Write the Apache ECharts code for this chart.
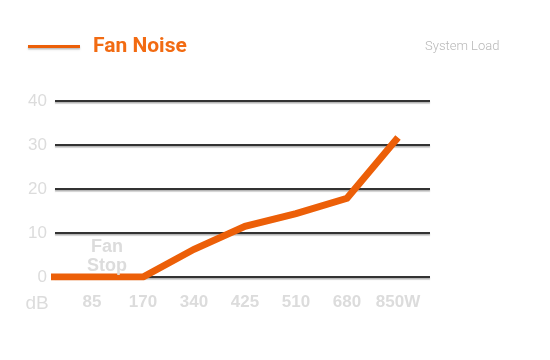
<!DOCTYPE html>
<html><head><meta charset="utf-8">
<script src="https://cdn.jsdelivr.net/npm/echarts@6/dist/echarts.min.js"></script>
<style>html,body{margin:0;padding:0;background:#fff}#c{width:550px;height:360px}</style>
</head><body><div id="c"></div>
<script>
// Data
const tickLabels = ['dB', '85', '170', '340', '425', '510', '680', '850W'];
const fanNoise = [0, 0, 0, 6.3, 11.5, 14.4, 17.9, 31.7];
const yMin = 0, yMax = 40, yStep = 10;
const seriesName = 'Fan Noise';
const annotation = ['Fan', 'Stop'];

// Layout
const band = 51, labelsLeft = 15.5;
const plotLeft = 55, plotRight = 430, plotTop = 101, plotBottom = 277;
const firstCenter = labelsLeft + band / 2;

const chart = echarts.init(document.getElementById('c'));
chart.setOption({
  animation: false,
  backgroundColor: '#fff',
  title: [{
    text: 'System Load', left: 420, top: 35,
    textStyle: { fontFamily: 'Roboto', fontWeight: 300, fontSize: 13, color: '#b8b8b8' }
  }, {
    text: annotation.join('\n'), left: 102, top: 233, textAlign: 'center',
    textStyle: { fontFamily: 'Liberation Sans', fontWeight: 'bold', fontSize: 18, color: '#dcdcdc', lineHeight: 19 }
  }],
  legend: {
    left: 28, top: 36, padding: 0, icon: 'rect', itemWidth: 52, itemHeight: 3, itemGap: 10,
    data: [seriesName],
    textStyle: { fontFamily: 'Roboto', fontWeight: 'bold', fontSize: 21, color: '#f26b12', padding: [0, 0, 0, 8] },
    itemStyle: { shadowColor: 'rgba(120,120,120,0.5)', shadowOffsetY: 1.5, shadowBlur: 1.5 }
  },
  grid: [
    { left: plotLeft, width: plotRight - plotLeft, top: plotTop, height: plotBottom - plotTop },
    { left: labelsLeft, width: band * tickLabels.length, top: plotTop, height: plotBottom - plotTop }
  ],
  xAxis: [{
    type: 'value', gridIndex: 0, show: false,
    min: (plotLeft - firstCenter) / band, max: (plotRight - firstCenter) / band,
    splitLine: { show: false }
  }, {
    type: 'category', gridIndex: 1, boundaryGap: true, data: tickLabels,
    axisLine: { show: false }, axisTick: { show: false }, splitLine: { show: false },
    axisLabel: {
      margin: 17, interval: 0,
      formatter: (v, i) => i === 0 ? '{u|' + v + '}' : '{b|' + v + '}',
      rich: {
        u: { fontFamily: 'Liberation Sans', fontSize: 19, color: '#dcdcdc', padding: [0, 8, 2, 0] },
        b: { fontFamily: 'Liberation Sans', fontWeight: 'bold', fontSize: 17, color: '#dcdcdc' }
      }
    }
  }],
  yAxis: [{
    type: 'value', gridIndex: 0, min: yMin, max: yMax, interval: yStep,
    axisLine: { show: false }, axisTick: { show: false },
    axisLabel: { margin: 8, fontFamily: 'Liberation Sans', fontSize: 17, color: '#dcdcdc' },
    splitLine: { lineStyle: { color: '#333', width: 2, shadowColor: 'rgba(140,140,140,0.7)', shadowOffsetY: 1.5, shadowBlur: 1 } }
  }, {
    type: 'value', gridIndex: 1, show: false, min: yMin, max: yMax, splitLine: { show: false }
  }],
  series: [{
    name: seriesName, type: 'line', xAxisIndex: 0, yAxisIndex: 0,
    data: fanNoise.map((v, i) => [i, v]),
    symbol: 'none', clip: true,
    color: '#ec5f08',
    lineStyle: { color: '#ec5f08', width: 7, join: 'miter' }
  }]
});
</script></body></html>
